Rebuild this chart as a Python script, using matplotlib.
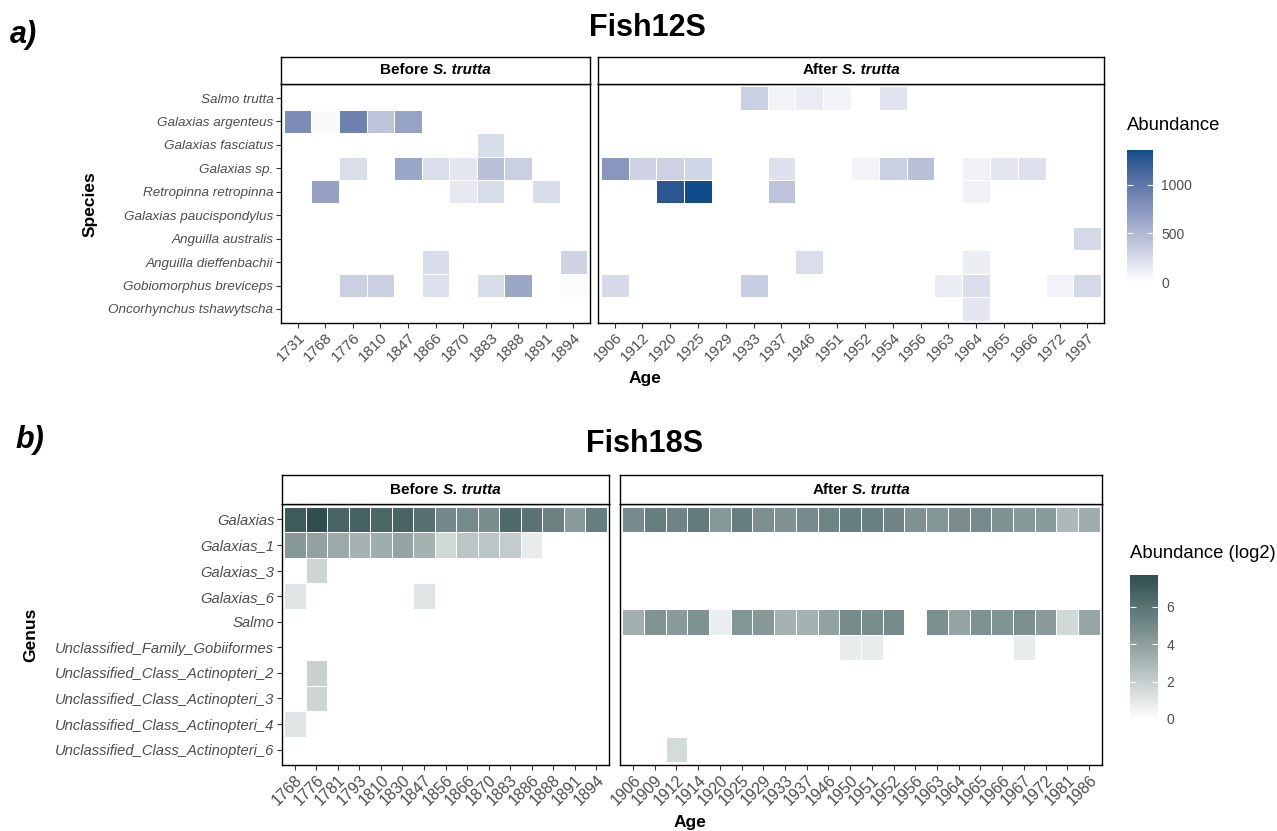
import numpy as np
import matplotlib
matplotlib.use('Agg')
import matplotlib.pyplot as plt
from matplotlib.colors import ListedColormap, Normalize, to_rgb
from matplotlib.cm import ScalarMappable
from matplotlib.transforms import offset_copy

plt.rcParams['font.family'] = ['Liberation Sans', 'DejaVu Sans']

_ = np.nan

# ---- Fish12S ----
species_12s = ['Salmo trutta', 'Galaxias argenteus', 'Galaxias fasciatus', 'Galaxias sp.',
               'Retropinna retropinna', 'Galaxias paucispondylus', 'Anguilla australis',
               'Anguilla dieffenbachii', 'Gobiomorphus breviceps', 'Oncorhynchus tshawytscha']
ages_12s_before = ['1731', '1768', '1776', '1810', '1847', '1866', '1870', '1883', '1888', '1891', '1894']
ages_12s_after = ['1906', '1912', '1920', '1925', '1929', '1933', '1937', '1946', '1951', '1952',
                  '1954', '1956', '1963', '1964', '1965', '1966', '1972', '1997']

abund_12s_before = [
    [_, _, _, _, _, _, _, _, _, _, _],
    [830, 40, 910, 410, 650, _, _, _, _, _, _],
    [_, _, _, _, _, _, _, 240, _, _, _],
    [_, _, 230, _, 640, 230, 165, 440, 330, _, _],
    [_, 670, _, _, _, _, 150, 240, _, 240, _],
    [_, _, _, _, _, _, _, _, _, _, _],
    [_, _, _, _, _, _, _, _, _, _, _],
    [_, _, _, _, _, 240, _, _, _, _, 300],
    [_, _, 330, 330, _, 220, _, 240, 630, _, 30],
    [_, _, _, _, _, _, _, _, _, _, _],
]
abund_12s_after = [
    [_, _, _, _, _, 330, 85, 135, 90, _, 190, _, _, _, _, _, _, _],
    [_, _, _, _, _, _, _, _, _, _, _, _, _, _, _, _, _, _],
    [_, _, _, _, _, _, _, _, _, _, _, _, _, _, _, _, _, _],
    [750, 300, 320, 290, _, _, 210, _, _, 90, 330, 440, _, 100, 165, 215, _, _],
    [_, _, 1270, 1360, _, _, 420, _, _, _, _, _, _, 95, _, _, _, _],
    [_, _, _, _, _, _, _, _, _, _, _, _, _, _, _, _, _, _],
    [_, _, _, _, _, _, _, _, _, _, _, _, _, _, _, _, _, 270],
    [_, _, _, _, _, _, _, 230, _, _, _, _, _, 120, _, _, _, _],
    [260, _, _, _, _, 340, _, _, _, _, _, _, 130, 230, _, _, 90, 270],
    [_, _, _, _, _, _, _, _, _, _, _, _, _, 165, _, _, _, _],
]

# ---- Fish18S ----
genus_18s = ['Galaxias', 'Galaxias_1', 'Galaxias_3', 'Galaxias_6', 'Salmo',
             'Unclassified_Family_Gobiiformes', 'Unclassified_Class_Actinopteri_2',
             'Unclassified_Class_Actinopteri_3', 'Unclassified_Class_Actinopteri_4',
             'Unclassified_Class_Actinopteri_6']
ages_18s_before = ['1768', '1776', '1781', '1793', '1810', '1830', '1847', '1856', '1866', '1870',
                   '1883', '1886', '1888', '1891', '1894']
ages_18s_after = ['1906', '1909', '1912', '1914', '1920', '1925', '1929', '1933', '1937', '1946',
                  '1950', '1951', '1952', '1956', '1963', '1964', '1965', '1966', '1967', '1972',
                  '1981', '1986']

log2_18s_before = [
    [7.1, 7.7, 6.7, 6.8, 6.6, 6.7, 6.1, 5.0, 4.9, 4.8, 6.4, 6.0, 5.3, 4.2, 5.5],
    [4.3, 3.9, 3.5, 3.2, 3.4, 3.8, 3.2, 1.6, 2.4, 2.4, 2.1, 0.8, _, _, _],
    [_, 1.7, _, _, _, _, _, _, _, _, _, _, _, _, _],
    [1.1, _, _, _, _, _, 1.1, _, _, _, _, _, _, _, _],
    [_, _, _, _, _, _, _, _, _, _, _, _, _, _, _],
    [_, _, _, _, _, _, _, _, _, _, _, _, _, _, _],
    [_, 1.9, _, _, _, _, _, _, _, _, _, _, _, _, _],
    [_, 1.7, _, _, _, _, _, _, _, _, _, _, _, _, _],
    [1.1, _, _, _, _, _, _, _, _, _, _, _, _, _, _],
    [_, _, _, _, _, _, _, _, _, _, _, _, _, _, _],
]
log2_18s_after = [
    [4.9, 5.5, 5.2, 5.6, 4.3, 5.5, 4.7, 4.6, 4.9, 5.2, 5.5, 5.4, 5.2, 4.6, 4.4, 4.8, 4.9, 4.6, 4.3, 4.2, 2.9, 3.4],
    [_] * 22,
    [_] * 22,
    [_] * 22,
    [3.3, 4.5, 4.2, 4.6, 0.7, 4.4, 4.3, 3.2, 3.2, 3.9, 4.9, 4.8, 4.9, _, 4.7, 3.8, 4.6, 4.5, 4.7, 4.2, 1.6, 3.7],
    [_, _, _, _, _, _, _, _, _, _, 0.8, 0.8, _, _, _, _, _, _, 0.8, _, _, _],
    [_] * 22,
    [_] * 22,
    [_] * 22,
    [_, _, 1.5, _, _, _, _, _, _, _, _, _, _, _, _, _, _, _, _, _, _, _],
]

W, H = 1277, 831
fig = plt.figure(figsize=(W / 100, H / 100), dpi=100)


# gradient in Lab space, like scale_fill_gradient
def _to_lab(rgb):
    c = np.array(rgb)
    c = np.where(c <= 0.04045, c / 12.92, ((c + 0.055) / 1.055) ** 2.4)
    m = np.array([[0.4124, 0.3576, 0.1805], [0.2126, 0.7152, 0.0722], [0.0193, 0.1192, 0.9505]])
    xyz = m @ c / np.array([0.95047, 1.0, 1.08883])
    f = np.where(xyz > 0.008856, np.cbrt(xyz), 7.787 * xyz + 16 / 116)
    return np.array([116 * f[1] - 16, 500 * (f[0] - f[1]), 200 * (f[1] - f[2])])


def _from_lab(lab):
    L, a, b = lab
    fy = (L + 16) / 116
    f = np.array([fy + a / 500, fy, fy - b / 200])
    xyz = np.where(f ** 3 > 0.008856, f ** 3, (f - 16 / 116) / 7.787) * np.array([0.95047, 1.0, 1.08883])
    m = np.array([[3.2406, -1.5372, -0.4986], [-0.9689, 1.8758, 0.0415], [0.0557, -0.2040, 1.0570]])
    c = m @ xyz
    c = np.where(c <= 0.0031308, 12.92 * c, 1.055 * np.clip(c, 0, None) ** (1 / 2.4) - 0.055)
    return np.clip(c, 0, 1)


def lab_cmap(lo, hi):
    l0, l1 = _to_lab(to_rgb(lo)), _to_lab(to_rgb(hi))
    return ListedColormap([_from_lab(l0 + (l1 - l0) * t) for t in np.linspace(0, 1, 256)])


cmap_12s = lab_cmap('#FFFFFF', '#0E4C8B')
cmap_18s = lab_cmap('#FFFFFF', '#2F4F4F')
vmax_12s = 1360
vmax_18s = 7.7

grey30 = '#4D4D4D'


def px_axes(x0, y0, x1, y1):
    return fig.add_axes([x0 / W, 1 - y1 / H, (x1 - x0) / W, (y1 - y0) / H])


def heat(ax, data, cmap, vmax, ages, rows, show_y, yfs, xfs):
    arr = np.ma.masked_invalid(np.array(data, dtype=float))
    nr, nc = arr.shape
    ax.pcolormesh(np.arange(nc + 1) - 0.5, np.arange(nr + 1) - 0.5, arr,
                  cmap=cmap, vmin=0, vmax=vmax, edgecolors='white', linewidth=0.6)
    ax.set_xlim(-0.6, nc - 0.4)
    ax.set_ylim(nr - 0.4, -0.6)
    ax.set_xticks(range(nc))
    ax.set_xticklabels(ages, rotation=45, ha='right', va='top', rotation_mode='anchor',
                       fontsize=xfs, color=grey30)
    ax.set_yticks(range(nr))
    if show_y:
        ax.set_yticklabels(rows, fontsize=yfs, color=grey30, style='italic')
    else:
        ax.tick_params(axis='y', left=False, labelleft=False)
    ax.tick_params(length=3.5, width=0.8, color='#333333', pad=2)
    for s in ax.spines.values():
        s.set_linewidth(1.0)
        s.set_color('black')


def strip(x0, y0, x1, y1, prefix):
    sax = px_axes(x0, y0, x1, y1)
    sax.set_xticks([])
    sax.set_yticks([])
    for s in sax.spines.values():
        s.set_linewidth(1.0)
    r = fig.canvas.get_renderer()
    fs = 11
    a = sax.text(0.5, 0.5, prefix, fontweight='bold', fontsize=fs, ha='left', va='center',
                 transform=sax.transAxes)
    b = sax.text(0.5, 0.5, 'S. trutta', fontweight='bold', style='italic', fontsize=fs,
                 ha='left', va='center', transform=sax.transAxes)
    wa = a.get_window_extent(r).width
    wb = b.get_window_extent(r).width
    sp = 0.278 * fs * 100 / 72
    total = wa + sp + wb
    a.set_transform(offset_copy(sax.transAxes, fig=fig, x=-total / 2, y=0, units='dots'))
    b.set_transform(offset_copy(sax.transAxes, fig=fig, x=-total / 2 + wa + sp, y=0, units='dots'))


def colorbar(x0, y0, x1, y1, cmap, vmax, ticks, title, ty):
    cax = px_axes(x0, y0, x1, y1)
    cb = fig.colorbar(ScalarMappable(Normalize(0, vmax), cmap), cax=cax)
    cb.outline.set_visible(False)
    cb.set_ticks(ticks)
    cax.tick_params(direction='in', color='white', length=4, width=0.8, left=True, right=True,
                    labelleft=False, labelright=True, labelsize=10, labelcolor=grey30, pad=6)
    fig.text(x0 / W, 1 - ty / H, title, fontsize=13.3, ha='left', va='center')


# ---- a) Fish12S ----
ax1 = px_axes(281, 84, 590, 323)
ax2 = px_axes(598, 84, 1104, 323)
heat(ax1, abund_12s_before, cmap_12s, vmax_12s, ages_12s_before, species_12s, True, 9.7, 11)
heat(ax2, abund_12s_after, cmap_12s, vmax_12s, ages_12s_after, species_12s, False, 9.7, 11)
strip(281, 57, 590, 84, 'Before')
strip(598, 57, 1104, 84, 'After')
fig.text(90 / W, 1 - 204 / H, 'Species', fontsize=12.5, fontweight='bold', rotation=90,
         ha='center', va='center')
fig.text(645 / W, 1 - 378 / H, 'Age', fontsize=12.5, fontweight='bold', ha='center', va='center')
fig.text(647 / W, 1 - 28 / H, 'Fish12S', fontsize=22, fontweight='bold', ha='center', va='center')
fig.text(10 / W, 1 - 35 / H, 'a)', fontsize=22, fontweight='bold', style='italic', ha='left', va='center')
colorbar(1127, 150, 1153, 282, cmap_12s, vmax_12s, [0, 500, 1000], 'Abundance', 126)

# ---- b) Fish18S ----
ax3 = px_axes(282, 504, 609, 765)
ax4 = px_axes(620, 504, 1102, 765)
heat(ax3, log2_18s_before, cmap_18s, vmax_18s, ages_18s_before, genus_18s, True, 10.6, 11.5)
heat(ax4, log2_18s_after, cmap_18s, vmax_18s, ages_18s_after, genus_18s, False, 10.6, 11.5)
strip(282, 475, 609, 504, 'Before')
strip(620, 475, 1102, 504, 'After')
fig.text(31 / W, 1 - 635 / H, 'Genus', fontsize=12.5, fontweight='bold', rotation=90,
         ha='center', va='center')
fig.text(690 / W, 1 - 822 / H, 'Age', fontsize=12.5, fontweight='bold', ha='center', va='center')
fig.text(645 / W, 1 - 444 / H, 'Fish18S', fontsize=22, fontweight='bold', ha='center', va='center')
fig.text(15 / W, 1 - 440 / H, 'b)', fontsize=22, fontweight='bold', style='italic', ha='left', va='center')
colorbar(1130, 575, 1158, 719, cmap_18s, vmax_18s, [0, 2, 4, 6], 'Abundance (log2)', 553)

fig.savefig('out.png', dpi=100)
